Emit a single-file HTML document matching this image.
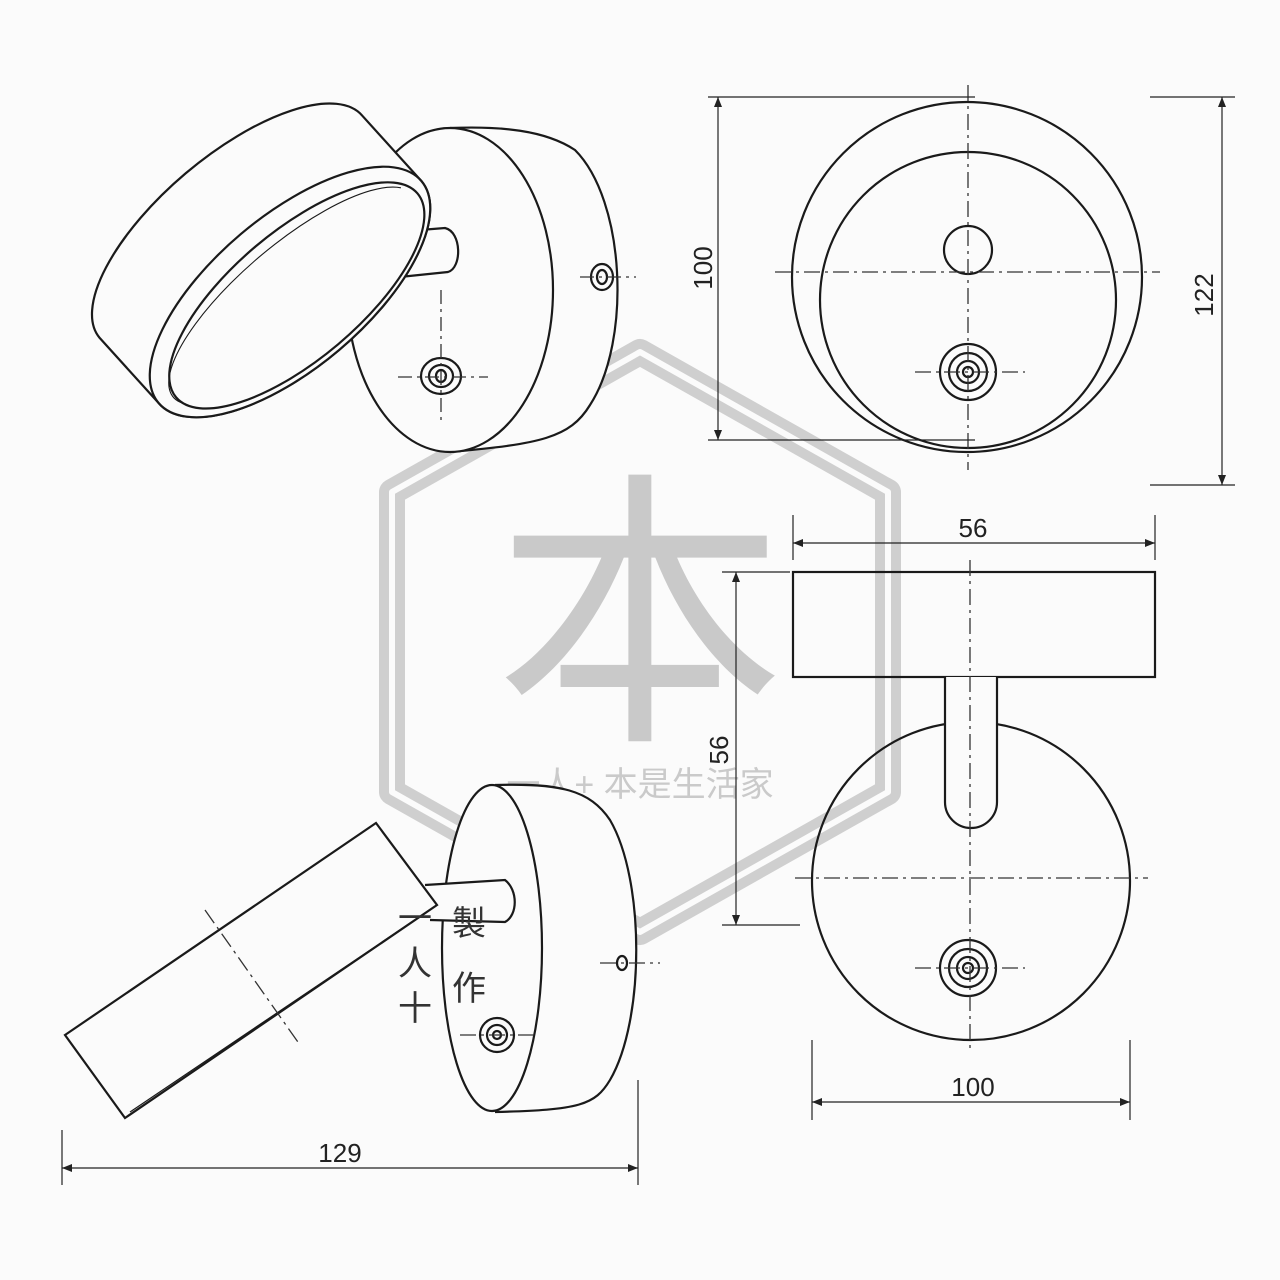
<!DOCTYPE html>
<html><head><meta charset="utf-8"><style>
html,body{margin:0;padding:0;background:#fbfbfb;}
svg{display:block}
text{font-family:"Liberation Sans","Noto Sans CJK SC",sans-serif;}
</style></head><body>
<svg width="1280" height="1280" viewBox="0 0 1280 1280" xmlns="http://www.w3.org/2000/svg">
<defs>
<marker id="ar" viewBox="0 0 10 10" refX="10" refY="5" markerWidth="14" markerHeight="10" orient="auto-start-reverse" markerUnits="userSpaceOnUse"><path d="M0,1 L10,5 L0,9 z" fill="#222"/></marker>
</defs>
<rect width="1280" height="1280" fill="#fbfbfb"/>

<!-- watermark -->
<g fill="none" stroke-linejoin="round">
<path d="M640,352 L888,492 L888,792 L640,932 L392,792 L392,492 Z" stroke="#cfcfcf" stroke-width="26"/>
<path d="M640,352 L888,492 L888,792 L640,932 L392,792 L392,492 Z" stroke="#fbfbfb" stroke-width="6"/>
</g>
<text x="640" y="718" font-size="290" fill="#c9c9c9" text-anchor="middle">本</text>
<text x="640" y="796" font-size="34" fill="#cacaca" text-anchor="middle">一人+ 本是生活家</text>

<g fill="none" stroke="#1a1a1a" stroke-width="2.2">
<!-- top-left base disc -->
<path d="M450,128 C500,126 545,130 575,150 C625,200 632,340 590,405 C570,438 540,444 450,452" fill="#fbfbfb"/>
<ellipse cx="450" cy="290" rx="103" ry="162" fill="#fbfbfb"/>
<ellipse cx="441" cy="376" rx="20" ry="18"/>
<ellipse cx="441" cy="376" rx="12" ry="11"/>
<ellipse cx="441" cy="376" rx="5" ry="6"/>
<ellipse cx="602" cy="277" rx="11" ry="13"/>
<ellipse cx="602" cy="277" rx="5" ry="7"/>
<!-- stem -->
<path d="M395,232 L445,228 C462,232 462,268 448,272 L390,278" fill="#fbfbfb"/>
<!-- ring -->
<g transform="translate(290,292) rotate(-40.2)">
<path d="M172,0 A172,76 0 0 1 -172,0 L-175,-88 A172,70 0 0 1 169,-88 Z" fill="#fbfbfb"/>
<ellipse cx="0" cy="0" rx="172" ry="76" fill="#fbfbfb"/>
<ellipse cx="3" cy="7" rx="158" ry="64"/>
<path d="M-152,18 A152,50 0 0 1 152,-8" stroke-width="1.1"/>
</g>
</g>
<g stroke="#333" stroke-width="1.3" stroke-dasharray="14,5,3,5" fill="none">
<line x1="398" y1="377" x2="488" y2="377"/><line x1="441" y1="290" x2="441" y2="420"/>
<line x1="580" y1="277" x2="636" y2="277"/>
</g>

<!-- top-right -->
<g fill="none" stroke="#1a1a1a" stroke-width="2.2">
<circle cx="967" cy="277" r="175"/>
<circle cx="968" cy="300" r="148"/>
<circle cx="968" cy="250" r="24"/>
<circle cx="968" cy="372" r="28"/><circle cx="968" cy="372" r="19"/><circle cx="968" cy="372" r="11"/><circle cx="968" cy="372" r="5"/>
</g>
<g stroke="#333" stroke-width="1.3" stroke-dasharray="16,5,3,5" fill="none">
<line x1="775" y1="272" x2="1160" y2="272"/><line x1="968" y1="85" x2="968" y2="470"/>
<line x1="915" y1="372" x2="1025" y2="372"/>
</g>
<g stroke="#222" stroke-width="1.2" fill="none">
<line x1="708" y1="97" x2="975" y2="97"/><line x1="708" y1="440" x2="975" y2="440"/>
<line x1="718" y1="97" x2="718" y2="440" marker-start="url(#ar)" marker-end="url(#ar)"/>
<line x1="1150" y1="97" x2="1235" y2="97"/><line x1="1150" y1="485" x2="1235" y2="485"/>
<line x1="1222" y1="97" x2="1222" y2="485" marker-start="url(#ar)" marker-end="url(#ar)"/>
</g>
<text x="712" y="268" font-size="26" fill="#222" text-anchor="middle" transform="rotate(-90 712 268)">100</text>
<text x="1213" y="295" font-size="26" fill="#222" text-anchor="middle" transform="rotate(-90 1213 295)">122</text>

<!-- bottom-right -->
<g fill="none" stroke="#1a1a1a" stroke-width="2.2">
<rect x="793" y="572" width="362" height="105"/>
<circle cx="971" cy="881" r="159"/>
<path d="M945,677 L945,802 A26,26 0 0 0 997,802 L997,677" fill="#fbfbfb"/>
<circle cx="968" cy="968" r="28"/><circle cx="968" cy="968" r="19"/><circle cx="968" cy="968" r="11"/><circle cx="968" cy="968" r="5"/>
</g>
<g stroke="#333" stroke-width="1.3" stroke-dasharray="16,5,3,5" fill="none">
<line x1="970" y1="560" x2="970" y2="1050"/><line x1="795" y1="878" x2="1148" y2="878"/>
<line x1="915" y1="968" x2="1025" y2="968"/>
</g>
<g stroke="#222" stroke-width="1.2" fill="none">
<line x1="793" y1="515" x2="793" y2="560"/><line x1="1155" y1="515" x2="1155" y2="560"/>
<line x1="793" y1="543" x2="1155" y2="543" marker-start="url(#ar)" marker-end="url(#ar)"/>
<line x1="722" y1="572" x2="790" y2="572"/><line x1="722" y1="925" x2="800" y2="925"/>
<line x1="736" y1="572" x2="736" y2="925" marker-start="url(#ar)" marker-end="url(#ar)"/>
<line x1="812" y1="1040" x2="812" y2="1120"/><line x1="1130" y1="1040" x2="1130" y2="1120"/>
<line x1="812" y1="1102" x2="1130" y2="1102" marker-start="url(#ar)" marker-end="url(#ar)"/>
</g>
<text x="973" y="537" font-size="26" fill="#222" text-anchor="middle">56</text>
<text x="728" y="750" font-size="26" fill="#222" text-anchor="middle" transform="rotate(-90 728 750)">56</text>
<text x="973" y="1096" font-size="26" fill="#222" text-anchor="middle">100</text>

<!-- bottom-left -->
<g fill="none" stroke="#1a1a1a" stroke-width="2.2">
<path d="M495,785 C560,783 590,790 610,820 C645,880 645,1020 610,1080 C595,1105 580,1110 495,1112" fill="#fbfbfb"/>
<ellipse cx="492" cy="948" rx="50" ry="163" fill="#fbfbfb"/>
<path d="M425,885 L505,880 C518,890 518,915 505,922 L430,920" fill="#fbfbfb"/>
<path d="M65,1035 L376,823 L437,905 L125,1118 Z" fill="#fbfbfb"/>
<line x1="437" y1="905" x2="130" y2="1112" stroke-width="1.2"/>
<circle cx="497" cy="1035" r="17"/><circle cx="497" cy="1035" r="10"/><circle cx="497" cy="1035" r="4"/>
<ellipse cx="622" cy="963" rx="5" ry="7"/>
</g>
<g stroke="#333" stroke-width="1.3" stroke-dasharray="16,5,3,5" fill="none">
<line x1="205" y1="910" x2="300" y2="1045"/>
<line x1="460" y1="1035" x2="535" y2="1035"/>
<line x1="600" y1="963" x2="660" y2="963"/>
</g>
<g stroke="#222" stroke-width="1.2" fill="none">
<line x1="62" y1="1130" x2="62" y2="1185"/><line x1="638" y1="1080" x2="638" y2="1185"/>
<line x1="62" y1="1168" x2="638" y2="1168" marker-start="url(#ar)" marker-end="url(#ar)"/>
</g>
<text x="340" y="1162" font-size="26" fill="#222" text-anchor="middle">129</text>
<g font-size="34" fill="#333" font-family="'WenQuanYi Zen Hei',sans-serif">
<text x="452" y="935">製</text><text x="452" y="1000">作</text>
<text x="398" y="930">一</text><text x="398" y="975">人</text><text x="398" y="1020">十</text>
</g>
</svg>
</body></html>
